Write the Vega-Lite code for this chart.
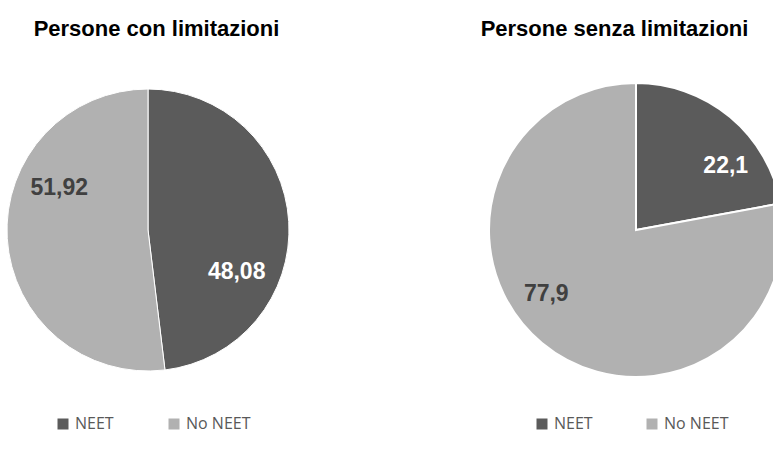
{
  "$schema": "https://vega.github.io/schema/vega-lite/v6.json",
  "width": 773,
  "height": 460,
  "padding": 0,
  "autosize": {"type": "none"},
  "background": "white",
  "config": {"view": {"stroke": null}},
  "data": {
    "values": [
      {"panel": "Persone con limitazioni", "category": "NEET", "value": 48.08, "label": "48,08"},
      {"panel": "Persone con limitazioni", "category": "No NEET", "value": 51.92, "label": "51,92"},
      {"panel": "Persone senza limitazioni", "category": "NEET", "value": 22.1, "label": "22,1"},
      {"panel": "Persone senza limitazioni", "category": "No NEET", "value": 77.9, "label": "77,9"}
    ]
  },
  "encoding": {
    "x": {
      "field": "panel",
      "type": "nominal",
      "scale": {
        "type": "point",
        "domain": ["Persone con limitazioni", "Persone senza limitazioni"],
        "range": [148, 636],
        "padding": 0
      },
      "axis": {
        "orient": "top",
        "offset": -40,
        "title": null,
        "domain": false,
        "ticks": false,
        "tickSize": 0,
        "grid": false,
        "labelAngle": 0,
        "labelAlign": "center",
        "labelBaseline": "bottom",
        "labelPadding": 0,
        "labelFont": "Liberation Sans",
        "labelFontWeight": "bold",
        "labelFontSize": 22,
        "labelColor": "#000000",
        "labelLimit": 0,
        "labelOverlap": false,
        "labelOffset": {"condition": {"test": "datum.value == 'Persone senza limitazioni'", "value": -22}, "value": 8}
      }
    }
  },
  "layer": [
    {
      "transform": [{"filter": "datum.panel == 'Persone con limitazioni'"}],
      "mark": {"type": "arc", "radius": 141, "stroke": "white", "strokeWidth": 1},
      "encoding": {
        "theta": {"field": "value", "type": "quantitative", "stack": true, "scale": {"domain": [0, 100]}},
        "color": {
          "field": "category",
          "type": "nominal",
          "scale": {"domain": ["NEET", "No NEET"], "range": ["#5b5b5b", "#b1b1b1"]},
          "legend": {
            "orient": "none",
            "legendX": 55,
            "legendY": 416,
            "direction": "horizontal",
            "title": null,
            "symbolType": "square",
            "symbolSize": 121,
            "symbolStrokeWidth": 0,
            "labelFont": "Open Sans",
            "labelFontSize": 16,
            "labelColor": "#595959",
            "labelOffset": 4,
            "columnPadding": 52,
            "padding": 0
          }
        }
      }
    },
    {
      "transform": [{"filter": "datum.panel == 'Persone senza limitazioni'"}],
      "mark": {"type": "arc", "radius": 147, "stroke": "white", "strokeWidth": 2},
      "encoding": {
        "theta": {"field": "value", "type": "quantitative", "stack": true, "scale": {"domain": [0, 100]}},
        "color": {
          "field": "category",
          "type": "nominal",
          "scale": {"domain": ["NEET", "No NEET"], "range": ["#5b5b5b", "#b1b1b1"]},
          "legend": {
            "orient": "none",
            "legendX": 534,
            "legendY": 416,
            "direction": "horizontal",
            "title": null,
            "symbolType": "square",
            "symbolSize": 121,
            "symbolStrokeWidth": 0,
            "labelFont": "Open Sans",
            "labelFontSize": 16,
            "labelColor": "#595959",
            "labelOffset": 4,
            "columnPadding": 51,
            "padding": 0
          }
        }
      }
    },
    {
      "transform": [{"filter": "datum.panel == 'Persone con limitazioni'"}],
      "mark": {"type": "text", "radius": 98, "thetaOffset": 0.5, "font": "Liberation Sans", "fontWeight": "bold", "fontSize": 23},
      "encoding": {
        "theta": {"field": "value", "type": "quantitative", "stack": true},
        "detail": {"field": "category", "type": "nominal"},
        "text": {"field": "label", "type": "nominal"},
        "color": {"condition": {"test": "datum.category == 'NEET'", "value": "#ffffff"}, "value": "#404040"}
      }
    },
    {
      "transform": [{"filter": "datum.panel == 'Persone senza limitazioni'"}],
      "mark": {"type": "text", "radius": 110, "thetaOffset": 0.26, "font": "Liberation Sans", "fontWeight": "bold", "fontSize": 23},
      "encoding": {
        "theta": {"field": "value", "type": "quantitative", "stack": true},
        "detail": {"field": "category", "type": "nominal"},
        "text": {"field": "label", "type": "nominal"},
        "color": {"condition": {"test": "datum.category == 'NEET'", "value": "#ffffff"}, "value": "#404040"}
      }
    }
  ],
  "resolve": {"scale": {"color": "independent"}, "legend": {"color": "independent"}}
}
